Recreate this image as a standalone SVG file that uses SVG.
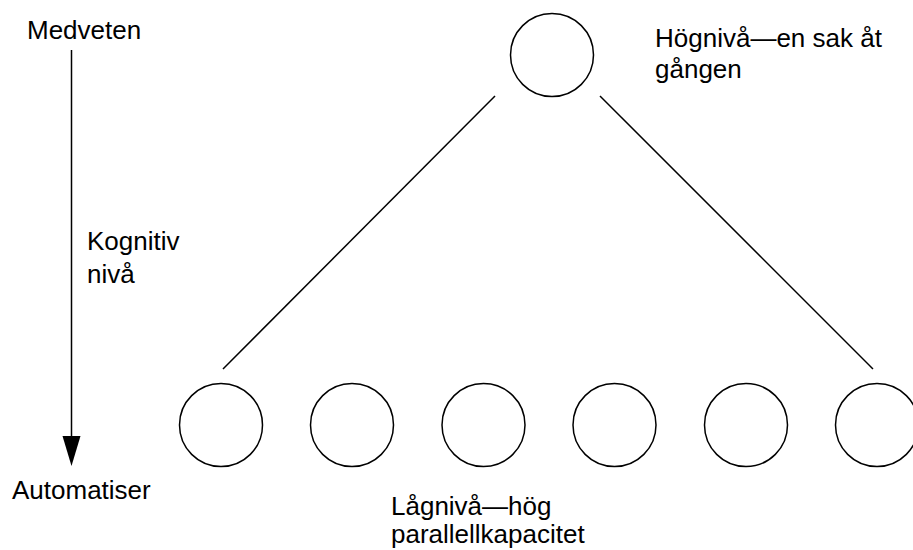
<svg xmlns="http://www.w3.org/2000/svg" width="913" height="550" viewBox="0 0 913 550">
<style>
.n{fill:#fff;stroke:#000;stroke-width:1.5}
.t{font-family:"Liberation Sans",Arial,sans-serif;font-size:26px;fill:#000}
.c{stroke:#000;stroke-width:1.5;fill:none}
</style>
<rect width="913" height="550" fill="#fff"/>
<g id="connectors">
<line class="c" x1="71.5" y1="50" x2="71.5" y2="440"/>
<path d="M62.5,436 L80.5,436 L71.5,466 Z" fill="#000"/>
<line class="c" x1="495" y1="96" x2="223" y2="369"/>
<line class="c" x1="600" y1="96" x2="873" y2="369"/>
</g>
<g id="top"><circle class="n" cx="552" cy="55" r="41.5"/></g>
<g id="b1"><circle class="n" cx="221" cy="425" r="41.5"/></g>
<g id="b2"><circle class="n" cx="352" cy="425" r="41.5"/></g>
<g id="b3"><circle class="n" cx="483.5" cy="425" r="41.5"/></g>
<g id="b4"><circle class="n" cx="614.5" cy="425" r="41.5"/></g>
<g id="b5"><circle class="n" cx="746" cy="425" r="41.5"/></g>
<g id="b6"><circle class="n" cx="877" cy="425" r="41.5"/></g>
<g id="labels">
<text class="t" x="27" y="39">Medveten</text>
<text class="t" x="12" y="499">Automatiser</text>
<text class="t" x="87" y="250">Kognitiv</text>
<text class="t" x="87" y="283">nivå</text>
<text class="t" x="655" y="47">Högnivå—en sak åt</text>
<text class="t" x="655" y="78">gången</text>
<text class="t" x="391" y="515">Lågnivå—hög</text>
<text class="t" x="391" y="543">parallellkapacitet</text>
</g>
</svg>
